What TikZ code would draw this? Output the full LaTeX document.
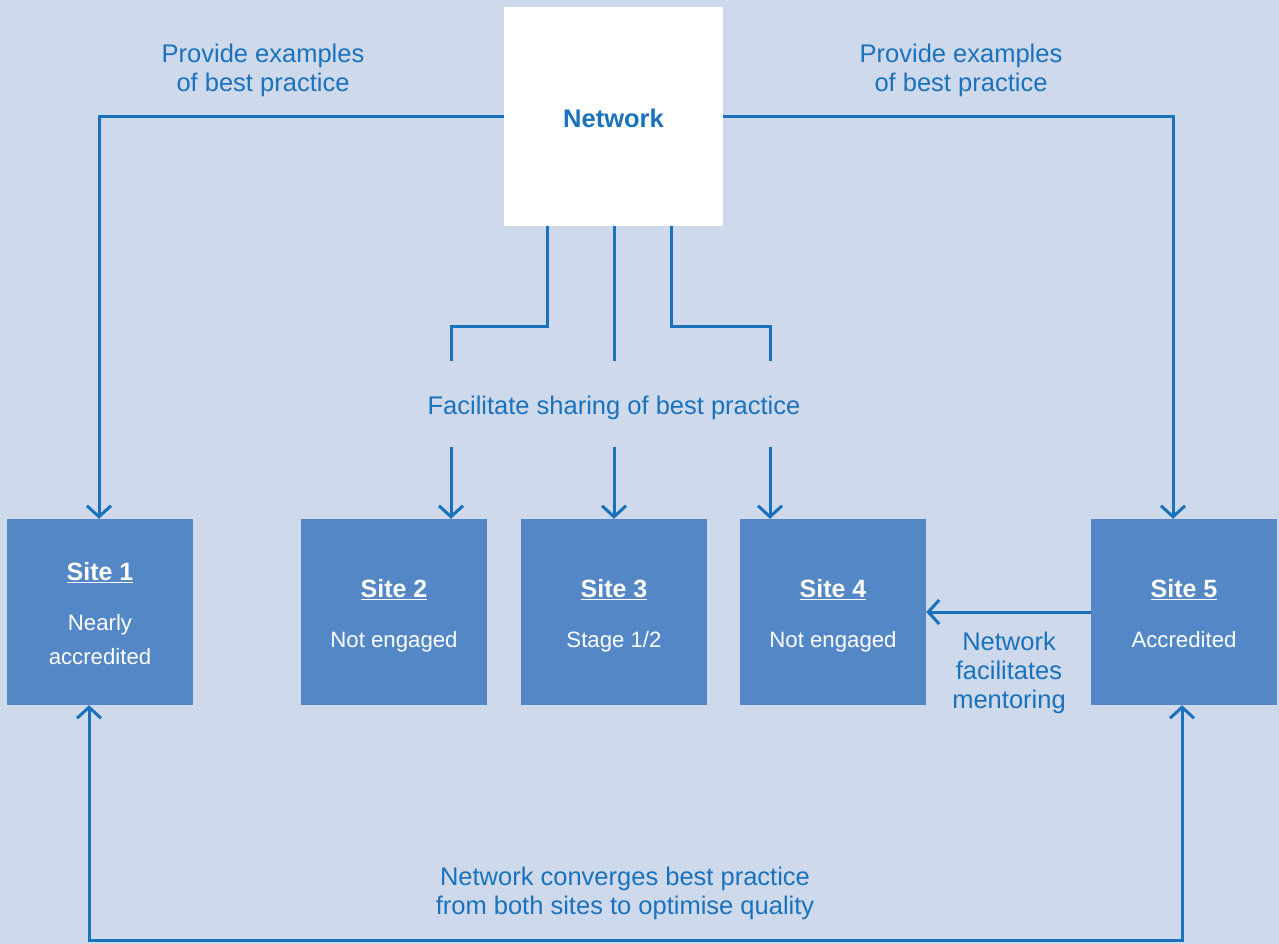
\documentclass[tikz,border=0pt]{standalone}
\usepackage{fontspec}
\setmainfont{Liberation Sans}
\usetikzlibrary{arrows.meta}
\definecolor{bg}{HTML}{CED9EC}
\definecolor{boxc}{HTML}{5487C6}
\definecolor{linec}{HTML}{1A72BC}
\tikzset{
  conn/.style={draw=linec, line width=3pt},
  arr/.style={conn, -{Straight Barb[length=11pt,width=24pt,line width=3pt]}},
  barr/.style={conn, {Straight Barb[length=11pt,width=24pt,line width=3pt]}-{Straight Barb[length=11pt,width=24pt,line width=3pt]}},
  lbl/.style={text=linec, align=center, font=\fontsize{25.5}{29}\selectfont, inner sep=0pt},
  site/.style={fill=boxc, minimum width=186pt, minimum height=186pt, inner sep=0pt, text=white, align=center, font=\fontsize{22.2}{34}\selectfont},
  net/.style={fill=white, minimum width=219pt, minimum height=219pt, inner sep=0pt, text=linec, font=\fontsize{25.5}{30}\selectfont\bfseries}
}
\newcommand{\sitetitle}[1]{{\fontsize{25}{30}\selectfont\bfseries\rule{0pt}{32pt}\underline{#1}}}
\begin{document}
\begin{tikzpicture}[x=1pt,y=-1pt]
\fill[bg] (0,0) rectangle (1279,944);
\useasboundingbox (0,0) rectangle (1279,944);
\node[net] (net) at (613.5,116.5) {\rule{0pt}{22.5pt}Network};
\node[site] (s1) at (100,612) {\sitetitle{Site 1}\\[16pt]Nearly\\accredited\strut};
\node[site] (s2) at (394,612) {\sitetitle{Site 2}\\[16pt]Not engaged\strut};
\node[site] (s3) at (614,612) {\sitetitle{Site 3}\\[16pt]Stage 1/2\strut};
\node[site] (s4) at (833,612) {\sitetitle{Site 4}\\[16pt]Not engaged\strut};
\node[site] (s5) at (1184,612) {\sitetitle{Site 5}\\[16pt]Accredited\strut};
\node[lbl] (pl) at (263,70) {Provide examples\\of best practice};
\node[lbl] (pr) at (961,70) {Provide examples\\of best practice};
\node[lbl] (fs) at (614,408) {Facilitate sharing of best practice};
\node[lbl] (mt) at (1009,673) {Network\\facilitates\\mentoring};
\node[lbl] (cv) at (625,893) {Network converges best practice\\from both sites to optimise quality};
% top connectors
\draw[arr] (net.west |- 0,117) -| ([xshift=-1pt]s1.north);
\draw[arr] (net.east |- 0,117) -| ([xshift=-11pt]s5.north);
% sharing
\coordinate (a1) at (451,361);
\coordinate (a2) at (614,361);
\coordinate (a3) at (770,361);
\draw[conn] (547,0 |- net.south) -- (547,326) -| (a1);
\draw[conn] (614,0 |- net.south) -- (a2);
\draw[conn] (671,0 |- net.south) -- (671,326) -| (a3);
\coordinate (b1) at (451,447);
\coordinate (b2) at (614,447);
\coordinate (b3) at (770,447);
\draw[arr] (b1) -- (b1 |- s2.north);
\draw[arr] (b2) -- (b2 |- s3.north);
\draw[arr] (b3) -- (b3 |- s4.north);
% mentoring
\draw[arr] (s5.west) -- (s4.east);
% bottom
\draw[barr] ([xshift=-11pt]s1.south) -- (89,940.5) -- (1182,940.5) -- ([xshift=-2pt]s5.south);
\end{tikzpicture}
\end{document}
